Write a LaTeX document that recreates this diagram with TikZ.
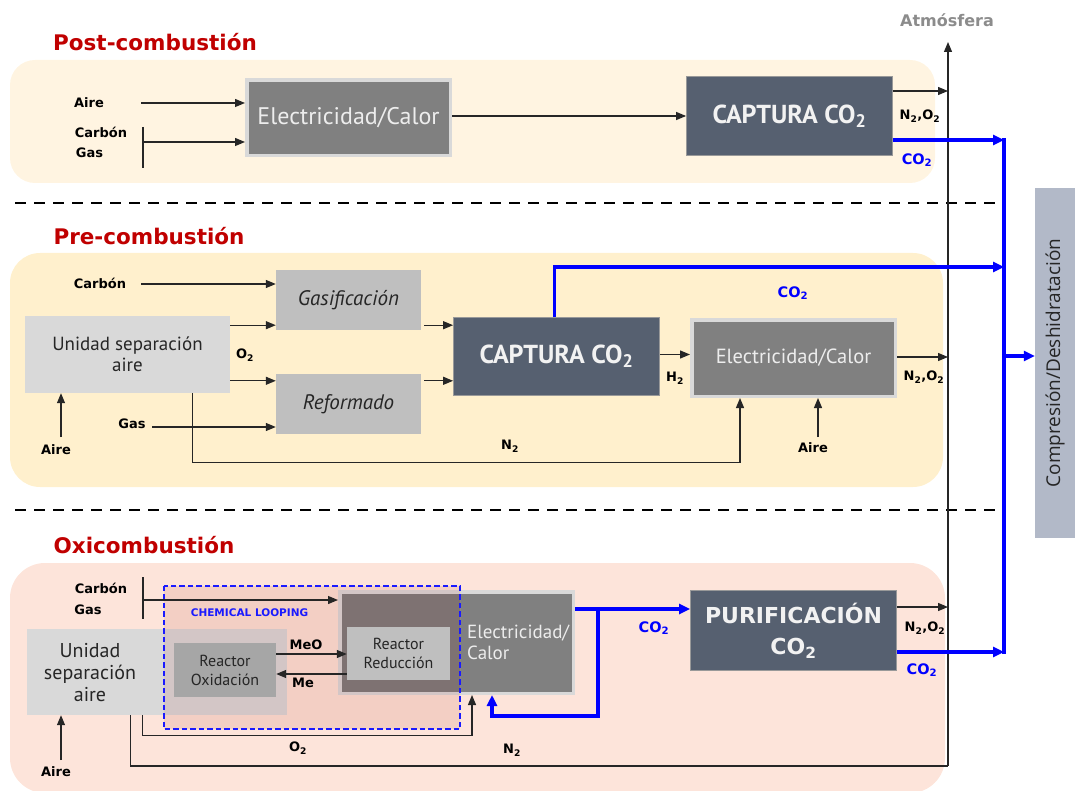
\documentclass[tikz,border=0pt]{standalone}
\usepackage{fontspec}
\setmainfont{DejaVu Sans}
\newfontfamily\bxfont{PT Sans}
\newfontfamily\cmpfont{Open Sans}
\usetikzlibrary{arrows.meta,calc}
\definecolor{pan1}{HTML}{FFF4E1}
\definecolor{pan2}{HTML}{FFF0CD}
\definecolor{pan3}{HTML}{FDE4DA}
\definecolor{slate}{HTML}{566070}
\definecolor{dgray}{HTML}{808080}
\definecolor{lgray}{HTML}{D9D9D9}
\definecolor{mgray}{HTML}{BFBFBF}
\definecolor{ggray}{HTML}{A6A6A6}
\definecolor{cmpc}{HTML}{B2B9C8}
\definecolor{ttl}{HTML}{C00000}
\definecolor{blu}{HTML}{0000FF}
\definecolor{loopc}{HTML}{F3CFC4}
\definecolor{tintl}{HTML}{D3C6C6}
\definecolor{tintd}{HTML}{7E7272}
\definecolor{atmc}{HTML}{8C8C8C}
\definecolor{loopln}{HTML}{1A1AFF}
\begin{document}
\begin{tikzpicture}[x=1pt,y=-1pt,
 lbl/.style={font=\bfseries\fontsize{13}{15}\selectfont, inner sep=0pt},
 blbl/.style={font=\bfseries\fontsize{14.5}{16}\selectfont, inner sep=0pt, text=blu},
 ttlst/.style={font=\bfseries\fontsize{21.5}{24}\selectfont, text=ttl, inner sep=0pt},
 arr/.style={line width=1.2pt, black!85, -{Triangle[length=10pt,width=8pt]}},
 ln/.style={line width=1.2pt, black!85},
 bluarr/.style={line width=3.5pt, blu, -{Triangle[length=11pt,width=10pt]}},
 bluln/.style={line width=3.5pt, blu},
 elecbox/.style={fill=dgray, draw=lgray, line width=3.5pt, text=white!93!black, font=\bxfont\fontsize{20.5}{22}\selectfont, inner sep=0pt},
 capbox/.style={fill=slate, draw=gray!80, line width=0.8pt, text=white!95!black, font=\bxfont\bfseries\fontsize{26}{28}\selectfont, inner sep=0pt},
 lgbox/.style={fill=lgray, inner sep=0pt, text=black!85, font=\bxfont\fontsize{19}{21}\selectfont, align=center},
 mgbox/.style={fill=mgray, inner sep=0pt, text=black!85, font=\bxfont\itshape\fontsize{21}{23}\selectfont, minimum width=145, minimum height=60},
 rbox/.style={inner sep=0pt, text=black!85, font=\bxfont\fontsize{16}{19}\selectfont, align=center},
 cmpbox/.style={rotate=90, minimum width=350, minimum height=40, fill=cmpc, inner sep=0pt, font=\cmpfont\fontsize{19}{21}\selectfont, text=black!85},
 sepst/.style={line width=2.8pt, dash pattern=on 11pt off 8pt, black},
 loopst/.style={draw=loopln, line width=1.5pt, dash pattern=on 5.5pt off 3pt}
]
\useasboundingbox (0,0) rectangle (1075,791);

% panels
\fill[pan1, rounded corners=25pt] (10,60) rectangle (935,183);
\fill[pan2, rounded corners=30pt] (10,253) rectangle (943,487);
\fill[pan3, rounded corners=35pt] (10,563) rectangle (945,793);

% separators
\draw[sepst] (15,203) -- (995,203);
\draw[sepst] (15,510) -- (1000,510);

% titles
\node[ttlst] (t1) at (155,42) {Post-combustión};
\node[ttlst] (t2) at (149,236) {Pre-combustión};
\node[ttlst] (t3) at (144,545) {Oxicombustión};

% atmosphere
\node[font=\bfseries\fontsize{16}{18}\selectfont, text=atmc, inner sep=0pt] (atm) at (947,20) {Atmósfera};
\coordinate (atmbot) at (948,766);
\coordinate (atmtop) at (948,42);
\draw[arr] (atmbot) -- (atmtop);

% blue trunk and compression
\coordinate (blutop) at (1004,138.5);
\coordinate (blubot) at (1004,653.5);
\draw[bluln] (blutop) -- (blubot);
\node[cmpbox] (comp) at (1055,363) {Compresión/Deshidratación};
\coordinate (blumid) at (1004,356);
\draw[bluarr] (blumid) -- (blumid -| comp.north);

% ---------- Post-combustion ----------
\node[elecbox, minimum width=203.5, minimum height=75.5, font=\bxfont\fontsize{24}{26}\selectfont] (elec1) at (348.5,118) {Electricidad/Calor};
\node[capbox, minimum width=206, minimum height=79] (cap1) at (789.5,116) {CAPTURA CO\textsubscript{2}};
\node[lbl] (aire1) at (89,103) {Aire};
\coordinate (aire1s) at (141,103);
\draw[arr] (aire1s) -- (aire1s -| elec1.west);
\node[lbl] (carb1) at (101,132) {Carbón};
\node[lbl] (gas1) at (89.5,153) {Gas};
\coordinate (bar1t) at (143,127);
\coordinate (bar1b) at (143,168);
\coordinate (bar1m) at (143,142);
\draw[ln] (bar1t) -- (bar1b);
\draw[arr] (bar1m) -- (bar1m -| elec1.west);
\draw[arr] (elec1.east |- cap1) -- (cap1.west);
\coordinate (c1a) at ($(cap1.east)+(0,-25)$);
\draw[arr] (c1a) -- (c1a -| atmbot);
\coordinate (c1b) at ($(cap1.east)+(0,24)$);
\draw[bluarr] (c1b) -- (c1b -| blutop);
\node[lbl] (no1) at (920,116) {N\textsubscript{2},O\textsubscript{2}};
\node[blbl] (co1) at (917,160) {CO\textsubscript{2}};

% ---------- Pre-combustion ----------
\node[lgbox, minimum width=205, minimum height=77] (usa2) at (127.5,354.5) {Unidad separación\\aire};
\node[mgbox] (gasif) at (348.5,300) {Gasificación};
\node[mgbox] (reform) at (348.5,404) {Reformado};
\node[capbox, minimum width=206, minimum height=78] (cap2) at (556.5,356.5) {CAPTURA CO\textsubscript{2}};
\node[elecbox, minimum width=203.5, minimum height=76.5] (elec2) at (793.5,358) {Electricidad/Calor};

\node[lbl] (carb2) at (100,283) {Carbón};
\coordinate (c2s) at (141,284);
\draw[arr] (c2s) -- (c2s -| gasif.west);
\coordinate (g2in) at ($(gasif.south west)+(0,-5)$);
\draw[arr] (usa2.east |- g2in) -- (g2in);
\coordinate (r2in) at ($(reform.north west)+(0,7)$);
\draw[arr] (usa2.east |- r2in) -- (r2in);
\node[lbl] (gas2) at (132,424) {Gas};
\coordinate (g2s) at (152,427);
\draw[arr] (g2s) -- (g2s -| reform.west);
\node[lbl] (o2m) at (245,355) {O\textsubscript{2}};
\node[lbl] (aire2) at (56,450) {Aire};
\coordinate (a2s) at (61,437);
\draw[arr] (a2s) -- (a2s |- usa2.south);
\coordinate (n2s) at ($(usa2.south west)+(168,0)$);
\coordinate (e2n) at ($(elec2.south west)+(50,0)$);
\draw[arr] (n2s) -- ++(0,69) -| (e2n);
\node[lbl] (n2m) at (510,446) {N\textsubscript{2}};
\coordinate (g2out) at ($(gasif.south east)+(3,-5)$);
\draw[arr] (g2out) -- (g2out -| cap2.west);
\coordinate (r2out) at ($(reform.north east)+(3,7)$);
\draw[arr] (r2out) -- (r2out -| cap2.west);
\coordinate (h2s) at ($(cap2.east)+(0,-2)$);
\draw[arr] (h2s) -- (h2s -| elec2.west);
\node[lbl] (h2m) at (675,378) {H\textsubscript{2}};
\coordinate (e2o) at ($(elec2.east)+(0,-1)$);
\draw[arr] (e2o) -- (e2o -| atmbot);
\node[lbl] (no2) at (924,377) {N\textsubscript{2},O\textsubscript{2}};
\node[lbl] (aire2b) at (813,448) {Aire};
\coordinate (a2bs) at (818,437);
\draw[arr] (a2bs) -- (a2bs |- elec2.south);
\coordinate (bl2) at (1004,267);
\draw[bluarr] ($(cap2.north)+(-2,0)$) |- (bl2);
\node[blbl] (co2m) at (793,293) {CO\textsubscript{2}};

% ---------- Oxicombustion ----------
\node[fill=loopc, minimum width=296, minimum height=143, inner sep=0pt] (loop) at (312,657.5) {};
\node[lgbox, minimum width=260, minimum height=86] (usa3) at (157,672) {};
\node[elecbox, minimum width=233.5, minimum height=101.5] (elec3) at (456.5,642.5) {};
\begin{scope}
\clip (loop.north west) rectangle (loop.south east);
\fill[tintl] (usa3.north west) rectangle (usa3.south east);
\fill[tintl] (elec3.north west) rectangle (elec3.south east);
\fill[tintd] ($(elec3.north west)+(3.5,3.5)$) rectangle ($(elec3.south east)+(-3.5,-3.5)$);
\end{scope}
\node[rbox, fill=ggray, minimum width=102, minimum height=54] (reox) at (225,670) {Reactor\\Oxidación};
\node[rbox, fill=mgray, minimum width=103, minimum height=53] (rered) at (398.5,653.5) {Reactor\\Reducción};
\draw[loopst] (loop.north west) rectangle (loop.south east);
\node[font=\bfseries\fontsize{10.5}{12}\selectfont, text=loopln, inner sep=0pt] (cl) at (249.5,613) {CHEMICAL LOOPING};

\node[lbl] (carb3) at (101,588) {Carbón};
\node[lbl] (gas3) at (88,610) {Gas};
\coordinate (bar3t) at (143,577);
\coordinate (bar3b) at (143,619);
\coordinate (bar3m) at (143,600);
\draw[ln] (bar3t) -- (bar3b);
\draw[arr] (bar3m) -- (bar3m -| elec3.west);

\node[lgbox, fill=none, font=\bxfont\fontsize{20}{22}\selectfont] (usa3t) at (90,673) {Unidad\\separación\\aire};
\node[inner sep=0pt, anchor=west, align=left, text=white!93!black, font=\bxfont\fontsize{19}{21}\selectfont] (elec3t) at (467,642) {Electricidad/\\Calor};

\coordinate (meo) at ($(reox.east)+(0,-16)$);
\draw[arr] (meo) -- (meo -| rered.west);
\node[lbl] (meol) at (306,645) {MeO};
\coordinate (me) at ($(rered.west)+(0,20.5)$);
\draw[arr] (me) -- (me -| reox.east);
\node[lbl] (mel) at (303,683) {Me};

\coordinate (o3s) at ($(usa3.south west)+(116,0)$);
\coordinate (e3a) at ($(elec3.south west)+(134,0)$);
\draw[arr] (o3s) -- ++(0,20) -| (e3a);
\node[lbl] (o3l) at (298,748) {O\textsubscript{2}};
\coordinate (n3s) at ($(usa3.south west)+(104,0)$);
\draw[ln] (n3s) |- (atmbot);
\node[lbl] (n3l) at (512,750) {N\textsubscript{2}};
\node[lbl] (aire3) at (56,772) {Aire};
\coordinate (a3s) at (61,760);
\draw[arr] (a3s) -- (a3s |- usa3.south);

\node[capbox, font=\bfseries\fontsize{22}{31}\selectfont, align=center, minimum width=206, minimum height=80] (puri) at (793.5,630.5) {PURIFICACIÓN\\CO\textsubscript{2}};
\coordinate (e3o) at ($(elec3.east)+(0,-33.5)$);
\draw[bluarr] (e3o) -- (e3o -| puri.west);
\coordinate (bj) at ($(e3o)+(23,0)$);
\coordinate (e3b) at ($(elec3.south west)+(154,0)$);
\draw[bluarr] (bj) -- ++(0,107) -| (e3b);
\node[blbl] (co3a) at (654,628) {CO\textsubscript{2}};
\coordinate (p3a) at ($(puri.east)+(0,-23.5)$);
\draw[arr] (p3a) -- (p3a -| atmbot);
\node[lbl] (no3) at (925,628) {N\textsubscript{2},O\textsubscript{2}};
\coordinate (p3b) at ($(puri.east)+(0,21.5)$);
\draw[bluarr] (p3b) -- (p3b -| blubot);
\node[blbl] (co3b) at (922,670) {CO\textsubscript{2}};
\end{tikzpicture}
\end{document}
